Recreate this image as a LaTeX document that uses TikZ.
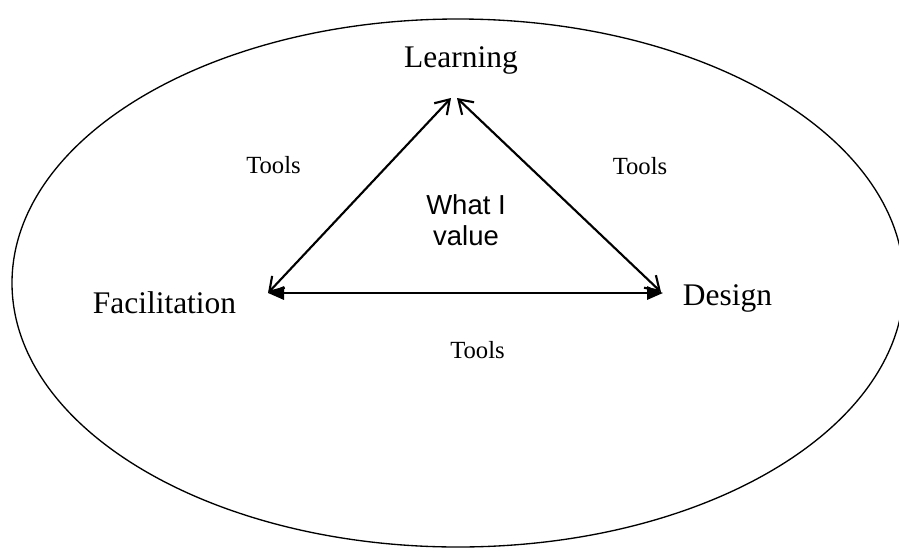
\documentclass[tikz,border=0pt]{standalone}
\usepackage{fontspec}
\setmainfont{Liberation Serif}
\newfontfamily\arialfont{Liberation Sans}
\usetikzlibrary{arrows.meta}

\tikzset{
  corner/.style={anchor=base,font=\fontsize{23.6}{28}\selectfont},
  tools/.style={anchor=base,font=\fontsize{18.5}{22}\selectfont},
  open/.style={line width=1.6pt,{Straight Barb[length=10pt,width=13pt]}-{Straight Barb[length=10pt,width=13pt]}},
  solid/.style={line width=1.6pt,{Triangle[length=12pt,width=10pt]}-{Triangle[length=12pt,width=10pt]}}
}

\begin{document}
\begin{tikzpicture}[x=0.75pt,y=-0.75pt]

      \useasboundingbox (0,0) rectangle (899,550);
      \clip (0,0) rectangle (899,550);
      \draw [line width=1pt] (458,283) ellipse (446 and 264);

      \node(learn) [corner] at (461,67) {Learning};
      \node(facil) [corner] at (164.5,313) {Facilitation};
      \node(design) [corner] at (727.5,305) {Design};

      \coordinate (tl) at (451,98);
      \coordinate (tr) at (457,98);
      \coordinate (l) at (268,293);
      \coordinate (r) at (663,293);
      \coordinate (rd) at (661,292);

      %Edges
      \draw [open] (l) -- (tl);
      \draw [open] (tr) -- (rd);
      \draw [solid] (l) -- (r);

      \node(tool1) [tools] at (273.5,173) {Tools};
      \node(tool2) [tools] at (640,174) {Tools};
      \node(tool3) [tools] at (477.5,358) {Tools};

      \node(value) [align=center,font=\arialfont\fontsize{20.6}{23}\selectfont,anchor=base] at (466,245) {What I\\value};

    \end{tikzpicture}
\end{document}
